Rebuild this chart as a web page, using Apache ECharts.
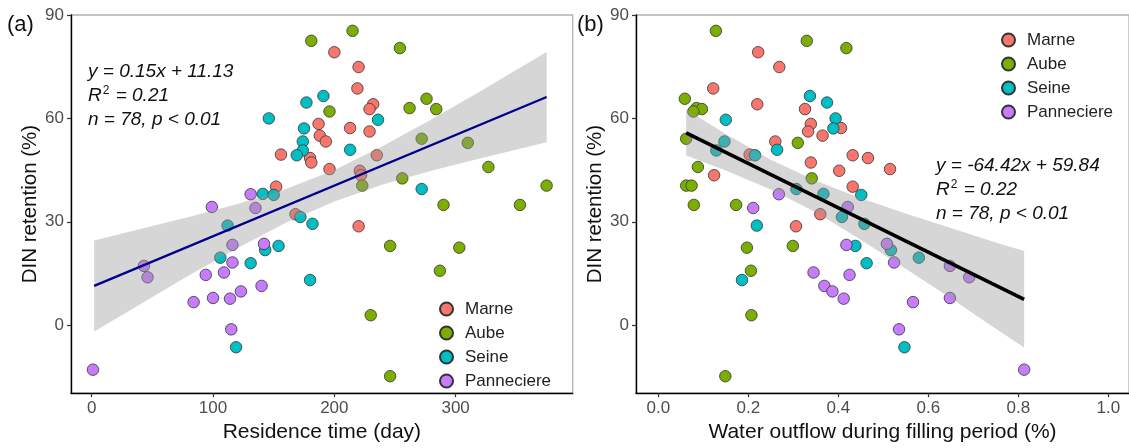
<!DOCTYPE html>
<html>
<head>
<meta charset="utf-8">
<script src="https://cdn.jsdelivr.net/npm/echarts@6/dist/echarts.min.js"></script>
<style>
  html, body { margin: 0; padding: 0; background: #fff; }
  #chart { width: 1129px; height: 448px; }
</style>
</head>
<body>
<div id="chart"></div>
<script>
// DIN retention (%) for each reservoir, with residence time (day) and water outflow (fraction)
const groups = ['Marne', 'Aube', 'Seine', 'Panneciere'];
const colors = ['#F8766D', '#7CAE00', '#00BFC4', '#C77CFF'];

const marneRet = [79.2, 74.9, 68.7, 64.1, 62.7, 58.4, 57.2, 56.2, 55.0, 53.3, 49.5, 49.3, 48.5, 47.2, 45.3, 44.8, 43.5, 40.2, 32.2, 28.7];
const marneRes = [200, 220, 219, 232, 229, 187, 213, 229, 188, 193, 156, 235, 180, 181, 196, 221, 222, 152, 168, 220];
const marneOut = [0.222, 0.269, 0.122, 0.220, 0.326, 0.339, 0.406, 0.333, 0.365, 0.260, 0.203, 0.432, 0.466, 0.339, 0.515, 0.402, 0.124, 0.432, 0.360, 0.306];

const aubeRet = [85.4, 82.5, 80.4, 65.7, 63.0, 62.7, 62.0, 54.1, 52.9, 45.9, 42.6, 40.5, 40.5, 34.9, 34.9, 23.0, 22.5, 15.8, 2.9, -14.8];
const aubeRes = [215, 181, 254, 276, 262, 284, 196, 272, 310, 327, 256, 375, 223, 290, 353, 246, 303, 287, 230, 246];
const aubeOut = [0.128, 0.330, 0.418, 0.059, 0.085, 0.097, 0.078, 0.062, 0.310, 0.088, 0.341, 0.062, 0.074, 0.079, 0.173, 0.299, 0.197, 0.206, 0.207, 0.149];

const seineRet = [66.5, 64.6, 60.0, 59.6, 57.1, 53.3, 50.9, 50.7, 49.3, 39.5, 38.1, 37.8, 31.4, 29.4, 28.9, 23.0, 21.8, 19.6, 18.0, 13.1, -6.4];
const seineRes = [191, 177, 146, 236, 175, 174, 213, 174, 169, 272, 141, 150, 172, 182, 112, 154, 143, 106, 131, 180, 119];
const seineOut = [0.337, 0.375, 0.394, 0.150, 0.389, 0.147, 0.264, 0.129, 0.215, 0.307, 0.367, 0.451, 0.408, 0.458, 0.219, 0.438, 0.517, 0.579, 0.463, 0.186, 0.547];

const pannRet = [-12.9, 17.2, 13.9, 34.3, 38.0, 34.0, 23.3, 23.6, 18.2, 15.3, 14.6, 11.4, 9.8, 7.9, 7.7, 6.7, -1.2];
const pannRes = [1, 43, 46, 99, 131, 135, 116, 142, 116, 109, 94, 140, 123, 100, 114, 84, 115];
const pannOut = [0.813, 0.648, 0.691, 0.421, 0.268, 0.211, 0.418, 0.508, 0.524, 0.345, 0.425, 0.369, 0.387, 0.648, 0.412, 0.566, 0.535];

// fitted lines and 95% confidence bands
const fitA = [[2, 11.4], [375, 66.2]];
const bandAX = [2, 40, 80, 120, 160, 200, 240, 280, 320, 375];
const bandAUp = [24.6, 27.9, 31.4, 35.2, 39.5, 45.0, 52.0, 59.7, 67.8, 79.3];
const bandALo = [-1.8, 6.1, 14.4, 22.3, 29.7, 35.9, 40.8, 44.8, 48.4, 53.1];

const fitB = [[0.062, 55.8], [0.813, 7.5]];
const bandBX = [0.062, 0.15, 0.25, 0.35, 0.45, 0.55, 0.65, 0.75, 0.813];
const bandBUp = [62.6, 55.5, 48.0, 41.9, 36.8, 32.4, 28.2, 24.0, 21.5];
const bandBLo = [49.2, 44.9, 39.4, 32.8, 24.8, 16.4, 7.8, -1.0, -6.5];

const yTicks = [0, 30, 60, 90];
const xTicksA = [0, 100, 200, 300];
const xTicksB = [0, 0.2, 0.4, 0.6, 0.8, 1.0];

const retention = [marneRet, aubeRet, seineRet, pannRet];
const residence = [marneRes, aubeRes, seineRes, pannRes];
const outflow = [marneOut, aubeOut, seineOut, pannOut];

const FONT = '"Liberation Sans", Arial, sans-serif';

function pairs(xs, ys) {
  return xs.map((x, i) => [x, ys[i]]);
}

function bandSeries(idx, xs, up, lo) {
  return {
    type: 'custom',
    xAxisIndex: idx, yAxisIndex: idx,
    z: 3,
    silent: true,
    data: xs.map((x, i) => [x, up[i], lo[i]]),
    encode: { x: 0, y: [1, 2] },
    renderItem: function (params, api) {
      if (params.dataIndex !== 0) return;
      const pts = [];
      for (let i = 0; i < xs.length; i++) pts.push(api.coord([xs[i], up[i]]));
      for (let i = xs.length - 1; i >= 0; i--) pts.push(api.coord([xs[i], lo[i]]));
      return { type: 'polygon', shape: { points: pts }, style: { fill: 'rgba(153,153,153,0.4)' } };
    }
  };
}

function xAxis(idx, min, max, ticks, name, fmt) {
  return {
    gridIndex: idx, type: 'value', min: min, max: max,
    name: name, nameLocation: 'middle', nameGap: 28,
    nameTextStyle: { fontSize: 21, color: '#111', fontFamily: FONT },
    axisLine: { show: true, onZero: false, lineStyle: { color: '#000', width: 1.4 } },
    axisTick: { show: true, length: 4, customValues: ticks, lineStyle: { color: '#333', width: 1.2 } },
    axisLabel: { customValues: ticks, fontSize: 17, color: '#4d4d4d', margin: 7, fontFamily: FONT, formatter: fmt },
    splitLine: { show: false }
  };
}

function yAxis(idx) {
  return {
    gridIndex: idx, type: 'value', min: -19.7, max: 90,
    name: 'DIN retention (%)', nameLocation: 'middle', nameGap: 27,
    nameTextStyle: { fontSize: 20.5, color: '#111', fontFamily: FONT },
    axisLine: { show: true, onZero: false, lineStyle: { color: '#000', width: 1.4 } },
    axisTick: { show: true, length: 4, customValues: yTicks, lineStyle: { color: '#333', width: 1.2 } },
    axisLabel: { customValues: yTicks, fontSize: 17, color: '#4d4d4d', margin: 7, fontFamily: FONT },
    splitLine: { show: false }
  };
}

const series = [];
groups.forEach((g, k) => {
  const base = {
    type: 'scatter', name: g, symbolSize: 11.5, z: 2,
    itemStyle: { color: colors[k], borderColor: '#333', borderWidth: 0.8, opacity: 1 },
    emphasis: { disabled: true }
  };
  series.push(Object.assign({}, base, { xAxisIndex: 0, yAxisIndex: 0, data: pairs(residence[k], retention[k]) }));
  series.push(Object.assign({}, base, { xAxisIndex: 1, yAxisIndex: 1, data: pairs(outflow[k], retention[k]) }));
});
series.push(bandSeries(0, bandAX, bandAUp, bandALo));
series.push(bandSeries(1, bandBX, bandBUp, bandBLo));
series.push({
  type: 'line', xAxisIndex: 0, yAxisIndex: 0, data: fitA, z: 4, symbol: 'none', silent: true,
  lineStyle: { color: '#00008B', width: 2.3 }
});
series.push({
  type: 'line', xAxisIndex: 1, yAxisIndex: 1, data: fitB, z: 4, symbol: 'none', silent: true,
  lineStyle: { color: '#000', width: 3.6 }
});

function legend(left, top) {
  return {
    data: groups, orient: 'vertical', left: left, top: top, padding: 0,
    icon: 'circle', itemWidth: 27, itemHeight: 13, itemGap: 6,
    selectedMode: false,
    textStyle: { fontSize: 17, color: '#222', lineHeight: 18, fontFamily: FONT }
  };
}

const italic = { fontSize: 19, fontStyle: 'italic', fontFamily: FONT, fill: '#111' };
function statText(x, y, eq, r2, n) {
  return [
    { type: 'text', x: x, y: y, style: Object.assign({ text: eq, verticalAlign: 'middle' }, italic) },
    { type: 'text', x: x, y: y + 24, style: Object.assign({
        text: '{r|R}{s|2}{r| = ' + r2 + '}', verticalAlign: 'middle',
        rich: {
          r: { fontSize: 19, fontStyle: 'italic', fontFamily: FONT, fill: '#111', lineHeight: 22 },
          s: { fontSize: 12, fontFamily: FONT, fill: '#111', verticalAlign: 'top', lineHeight: 22, padding: [0, 1, 8, 1] }
        } }, italic) },
    { type: 'text', x: x, y: y + 48, style: Object.assign({ text: n, verticalAlign: 'middle' }, italic) }
  ];
}

const chart = echarts.init(document.getElementById('chart'), null, { renderer: 'canvas' });
chart.setOption({
  animation: false,
  backgroundColor: '#fff',
  grid: [
    { left: 71, top: 15, width: 501.7, height: 381.7, show: true, borderColor: '#b3b3b3', borderWidth: 1.3, backgroundColor: 'transparent' },
    { left: 636, top: 15, width: 500, height: 381.7, show: true, borderColor: '#b3b3b3', borderWidth: 1.3, backgroundColor: 'transparent' }
  ],
  xAxis: [
    xAxis(0, -17.1, 396.5, xTicksA, 'Residence time (day)'),
    xAxis(1, -0.0495, 1.046, xTicksB, 'Water outflow during filling period (%)', v => v.toFixed(1))
  ],
  yAxis: [yAxis(0), yAxis(1)],
  legend: [legend(439, 300), legend(1001, 31)],
  graphic: [
    { type: 'text', x: 7, y: 25, style: { text: '(a)', fontSize: 22, fontFamily: FONT, fill: '#111', verticalAlign: 'middle' } },
    { type: 'text', x: 577, y: 25, style: { text: '(b)', fontSize: 22, fontFamily: FONT, fill: '#111', verticalAlign: 'middle' } }
  ].concat(
    statText(88, 72, 'y = 0.15x + 11.13', '0.21', 'n = 78, p < 0.01'),
    statText(936, 166, 'y = -64.42x + 59.84', '0.22', 'n = 78, p < 0.01')
  ),
  series: series
});
</script>
</body>
</html>
